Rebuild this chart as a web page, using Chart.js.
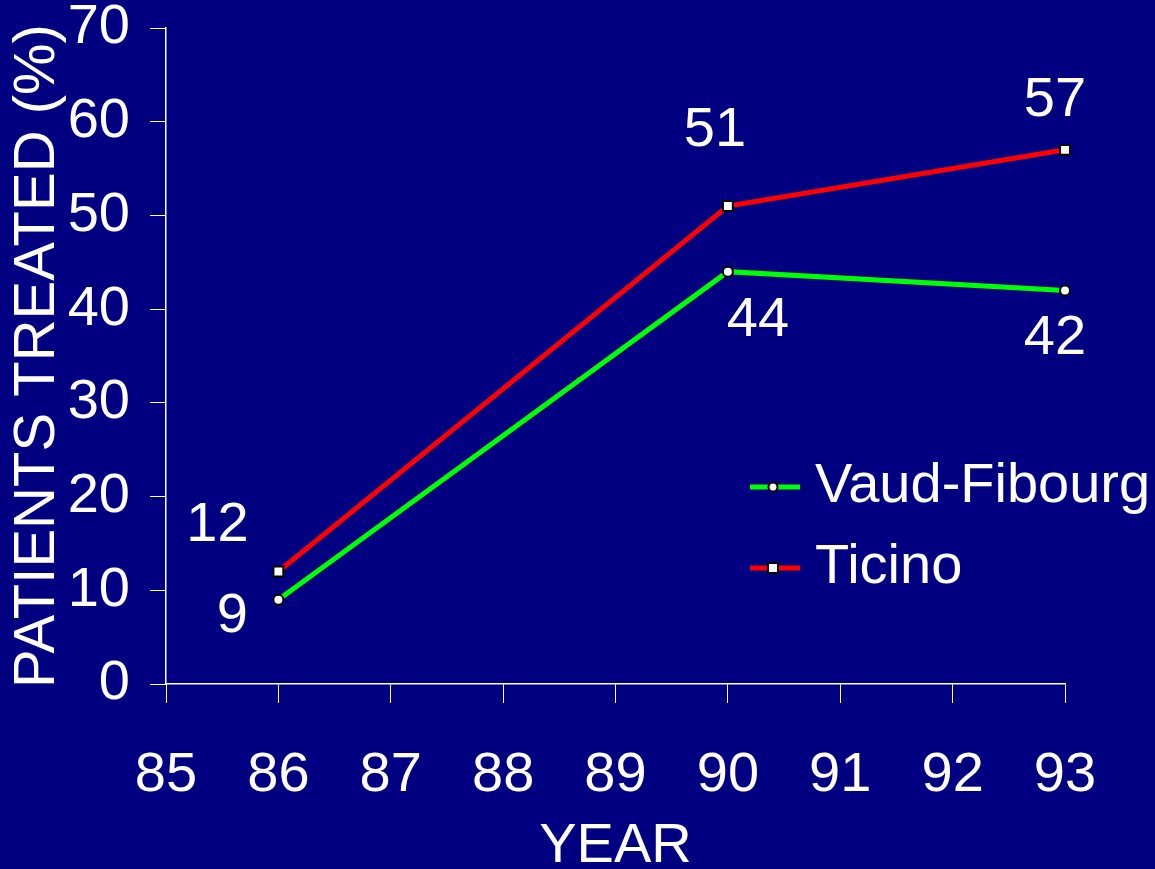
<!DOCTYPE html>
<html lang="en">
<head>
    <meta charset="UTF-8">
    <title>Patients treated (%) by year</title>
    <style>
        body { margin: 0; background-color: #000080; overflow: hidden; }
        canvas { display: block; }
    </style>
</head>
<body>
    <canvas id="treatedChart" width="1155" height="869"></canvas>

    <script src="https://cdn.jsdelivr.net/npm/chart.js"></script>
    <script>
        // data
        const years = [86, 90, 93];
        const vaudFibourg = [9, 44, 42];
        const ticino = [12, 51, 57];
        const seriesNames = ["Vaud-Fibourg", "Ticino"];

        const FONT = "'Liberation Sans', Arial, sans-serif";

        // value labels next to each point (offsets in px, per series)
        const labelOffsets = [
            [[-46, 17], [30, 49], [-10, 48]],
            [[-61, -46], [-13, -75], [-10, -49]]
        ];

        const valueLabels = {
            id: 'valueLabels',
            afterDatasetsDraw(chart) {
                const ctx = chart.ctx;
                ctx.save();
                ctx.font = "56px " + FONT;
                ctx.fillStyle = "white";
                ctx.textAlign = "center";
                ctx.textBaseline = "middle";
                chart.data.datasets.forEach((ds, i) => {
                    chart.getDatasetMeta(i).data.forEach((pt, j) => {
                        const off = labelOffsets[i][j];
                        ctx.fillText(ds.data[j].y, pt.x + off[0], pt.y + off[1]);
                    });
                });

                // legend
                const rows = [487, 568];
                chart.data.datasets.forEach((ds, i) => {
                    const y = rows[i];
                    ctx.strokeStyle = ds.borderColor;
                    ctx.lineWidth = 5;
                    ctx.beginPath();
                    ctx.moveTo(750, y);
                    ctx.lineTo(800, y);
                    ctx.stroke();
                    ctx.fillStyle = "white";
                    ctx.strokeStyle = "black";
                    ctx.lineWidth = 2;
                    ctx.beginPath();
                    if (ds.pointStyle === 'rect') {
                        ctx.rect(768, y - 5, 10, 10);
                    } else {
                        ctx.arc(773, y, 4.5, 0, Math.PI * 2);
                    }
                    ctx.fill();
                    ctx.stroke();
                    ctx.fillStyle = "white";
                    ctx.textAlign = "left";
                    ctx.fillText(ds.label, 815, y);
                });
                ctx.restore();
            }
        };

        const toPoints = vals => vals.map((v, i) => ({ x: years[i], y: v }));

        const ctx = document.getElementById('treatedChart').getContext('2d');
        new Chart(ctx, {
            type: 'line',
            data: {
                datasets: [{
                    label: seriesNames[0],
                    data: toPoints(vaudFibourg),
                    borderColor: "#00ff00",
                    borderWidth: 5,
                    pointStyle: 'circle',
                    pointRadius: 5,
                    pointBorderWidth: 2,
                    pointBackgroundColor: "white",
                    pointBorderColor: "black",
                    tension: 0,
                    clip: false
                }, {
                    label: seriesNames[1],
                    data: toPoints(ticino),
                    borderColor: "#ff0000",
                    borderWidth: 5,
                    pointStyle: 'rect',
                    pointRadius: 7,
                    pointBorderWidth: 2,
                    pointBackgroundColor: "white",
                    pointBorderColor: "black",
                    tension: 0,
                    clip: false
                }]
            },
            options: {
                responsive: false,
                animation: false,
                layout: { padding: { top: 28, right: 90, left: 0, bottom: 0 } },
                plugins: {
                    legend: { display: false },
                    tooltip: { enabled: false }
                },
                scales: {
                    x: {
                        type: 'linear',
                        min: 85,
                        max: 93,
                        afterFit: s => { s.height = 185; s.paddingLeft = 0; s.paddingRight = 0; },
                        border: { color: "white", width: 1.5 },
                        grid: { drawOnChartArea: false, drawTicks: true, tickLength: 19, color: "white" },
                        ticks: { stepSize: 1, color: "white", padding: 45, font: { family: FONT, size: 56, lineHeight: 1 } },
                        title: { display: true, text: "YEAR", color: "white", padding: { top: 0, bottom: -6 }, font: { family: FONT, size: 56, lineHeight: 1 } }
                    },
                    y: {
                        min: 0,
                        max: 70,
                        afterFit: s => { s.width = 166; s.paddingTop = 0; s.paddingBottom = 0; },
                        border: { color: "white", width: 1.5 },
                        grid: { drawOnChartArea: false, drawTicks: true, tickLength: 16, color: "white" },
                        ticks: { stepSize: 10, color: "white", padding: 20, font: { family: FONT, size: 56, lineHeight: 1 } },
                        title: { display: true, text: "PATIENTS TREATED (%)", color: "white", padding: { top: 3, bottom: 0 }, font: { family: FONT, size: 58, lineHeight: 1.2 } }
                    }
                }
            },
            plugins: [valueLabels]
        });
    </script>
</body>
</html>
